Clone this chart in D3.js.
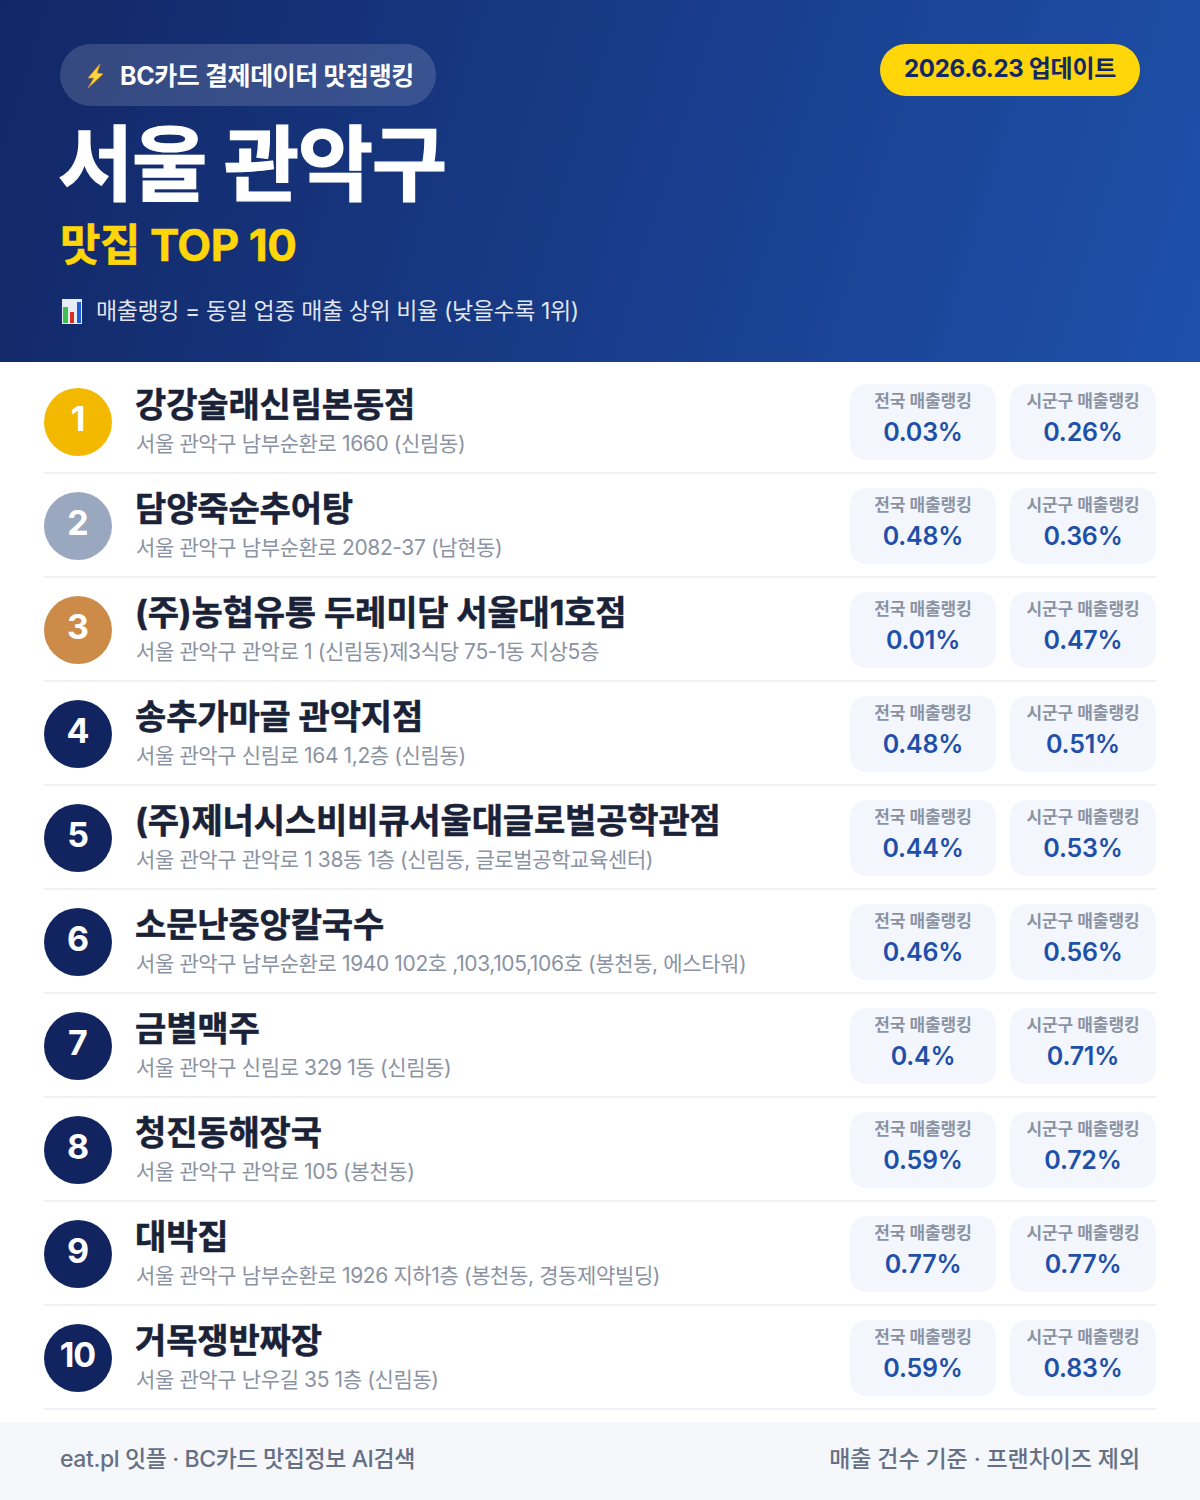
<!DOCTYPE html>
<html>
<head>
<meta charset="utf-8">
<script src="https://cdn.jsdelivr.net/npm/d3@7"></script>
<style>
html, body { margin: 0; padding: 0; background: #fff; }
svg { display: block; }
text { font-family: Inter, "Noto Sans CJK KR", "Noto Sans", sans-serif; }
</style>
</head>
<body>
<svg id="chart" width="1200" height="1500"></svg>
<script>
// data
const ranks = [1, 2, 3, 4, 5, 6, 7, 8, 9, 10];
const names = ["강강술래신림본동점", "담양죽순추어탕", "(주)농협유통 두레미담 서울대1호점", "송추가마골 관악지점",
    "(주)제너시스비비큐서울대글로벌공학관점", "소문난중앙칼국수", "금별맥주", "청진동해장국", "대박집", "거목쟁반짜장"];
const addresses = ["서울 관악구 남부순환로 1660 (신림동)", "서울 관악구 남부순환로 2082-37 (남현동)",
    "서울 관악구 관악로 1 (신림동)제3식당 75-1동 지상5층", "서울 관악구 신림로 164 1,2층 (신림동)",
    "서울 관악구 관악로 1 38동 1층 (신림동, 글로벌공학교육센터)", "서울 관악구 남부순환로 1940 102호 ,103,105,106호 (봉천동, 에스타워)",
    "서울 관악구 신림로 329 1동 (신림동)", "서울 관악구 관악로 105 (봉천동)",
    "서울 관악구 남부순환로 1926 지하1층 (봉천동, 경동제약빌딩)", "서울 관악구 난우길 35 1층 (신림동)"];
const nationalRank = ["0.03%", "0.48%", "0.01%", "0.48%", "0.44%", "0.46%", "0.4%", "0.59%", "0.77%", "0.59%"];
const districtRank = ["0.26%", "0.36%", "0.47%", "0.51%", "0.53%", "0.56%", "0.71%", "0.72%", "0.77%", "0.83%"];
const medalColors = ["#f2b900", "#9aa8bf", "#cd8b4a"];

const svg = d3.select("#chart");
const defs = svg.append("defs");
const grad = defs.append("linearGradient").attr("id", "headerGrad")
    .attr("gradientUnits", "userSpaceOnUse")
    .attr("x1", 0).attr("y1", 0).attr("x2", 1200).attr("y2", 362);
grad.append("stop").attr("offset", "0%").attr("stop-color", "#122766");
grad.append("stop").attr("offset", "100%").attr("stop-color", "#1e50aa");

function label(g, x, y, str, size, weight, fill, anchor, spacing) {
    return g.append("text").attr("x", x).attr("y", y).text(str)
        .attr("font-size", size).attr("font-weight", weight).attr("fill", fill)
        .attr("text-anchor", anchor || "start")
        .attr("letter-spacing", spacing || 0);
}

// header
const header = svg.append("g").attr("class", "header");
header.append("rect").attr("width", 1200).attr("height", 362).attr("fill", "url(#headerGrad)");
header.append("rect").attr("x", 60).attr("y", 44).attr("width", 376).attr("height", 62).attr("rx", 31)
    .attr("fill", "#fff").attr("fill-opacity", 0.15);
// bolt icon
header.append("path").attr("d", "M100 64 L88 78 L94 78 L88 88 L103 74 L97 73 Z")
    .attr("fill", "#ffd83b").attr("stroke", "#e8901a").attr("stroke-width", 0.7);
label(header, 120, 85, "BC카드 결제데이터 맛집랭킹", 25, 700, "#fff", "start", -0.4);
label(header, 58, 194, "서울 관악구", 82, 700, "#fff", "start", -1.5)
    .attr("stroke", "#fff").attr("stroke-width", 1.2);
label(header, 60, 261, "맛집 TOP 10", 44, 700, "#ffd60a", "start", -0.5)
    .attr("stroke", "#ffd60a").attr("stroke-width", 0.5);
// chart icon
header.append("rect").attr("x", 62).attr("y", 299).attr("width", 20).attr("height", 25).attr("fill", "#e8edf5");
header.append("rect").attr("x", 63).attr("y", 307).attr("width", 5).attr("height", 16).attr("fill", "#3fbf4f");
header.append("rect").attr("x", 70).attr("y", 312).attr("width", 4).attr("height", 11).attr("fill", "#d92d20");
header.append("rect").attr("x", 77).attr("y", 302).attr("width", 4).attr("height", 21).attr("fill", "#1f5fd0");
label(header, 96, 319, "매출랭킹 = 동일 업종 매출 상위 비율 (낮을수록 1위)", 23, 400, "#fff", "start", -0.4).attr("fill-opacity", 0.88);
// update badge
header.append("rect").attr("x", 880).attr("y", 44).attr("width", 260).attr("height", 52).attr("rx", 26).attr("fill", "#ffd60a");
label(header, 1010, 77, "2026.6.23 업데이트", 24, 700, "#122766", "middle", -0.3);

// rows
const y = d3.scaleBand().domain(ranks).range([370, 1410]);
const rows = svg.append("g").attr("class", "rows").selectAll("g").data(ranks).join("g")
    .attr("transform", d => `translate(0,${y(d)})`);

rows.append("rect").attr("x", 44).attr("y", y.bandwidth() - 2).attr("width", 1112).attr("height", 2).attr("fill", "#eef0f3");
rows.append("circle").attr("cx", 78).attr("cy", 52).attr("r", 34)
    .attr("fill", d => medalColors[d - 1] || "#11245f");
rows.append("text").attr("x", 77.5).attr("y", 61).attr("text-anchor", "middle")
    .attr("font-size", 34).attr("font-weight", 700).attr("fill", "#fff").attr("letter-spacing", -1).text(d => d);
rows.append("text").attr("x", 135).attr("y", 47)
    .attr("font-size", 34).attr("font-weight", 700).attr("fill", "#1a2238").attr("letter-spacing", -0.15)
    .attr("stroke", "#1a2238").attr("stroke-width", 0.5)
    .text(d => names[d - 1]);
rows.append("text").attr("x", 136).attr("y", 81)
    .attr("font-size", 21).attr("font-weight", 400).attr("fill", "#8b93a3").attr("letter-spacing", -0.38)
    .text(d => addresses[d - 1]);

const pillDefs = [
    { x: 850, w: 146, title: "전국 매출랭킹", values: nationalRank },
    { x: 1010, w: 146, title: "시군구 매출랭킹", values: districtRank }
];
pillDefs.forEach(p => {
    rows.append("rect").attr("x", p.x).attr("y", 14).attr("width", p.w).attr("height", 76).attr("rx", 16).attr("fill", "#f3f6fc");
    rows.append("text").attr("x", p.x + p.w / 2).attr("y", 37).attr("text-anchor", "middle")
        .attr("font-size", 17).attr("font-weight", 600).attr("fill", "#8b93a3").attr("letter-spacing", -0.1).text(p.title);
    rows.append("text").attr("x", p.x + p.w / 2).attr("y", 71).attr("text-anchor", "middle")
        .attr("font-size", 25).attr("font-weight", 600).attr("fill", "#1e50aa").attr("letter-spacing", -0.2)
        .text(d => p.values[d - 1]);
});

// footer
const footer = svg.append("g").attr("class", "footer");
footer.append("rect").attr("y", 1422).attr("width", 1200).attr("height", 78).attr("fill", "#f5f7fb");
label(footer, 60, 1467, "eat.pl 잇플 · BC카드 맛집정보 AI검색", 23, 500, "#667085", "start", -0.4);
label(footer, 1140, 1467, "매출 건수 기준 · 프랜차이즈 제외", 23, 500, "#667085", "end", -0.1);
</script>
</body>
</html>
